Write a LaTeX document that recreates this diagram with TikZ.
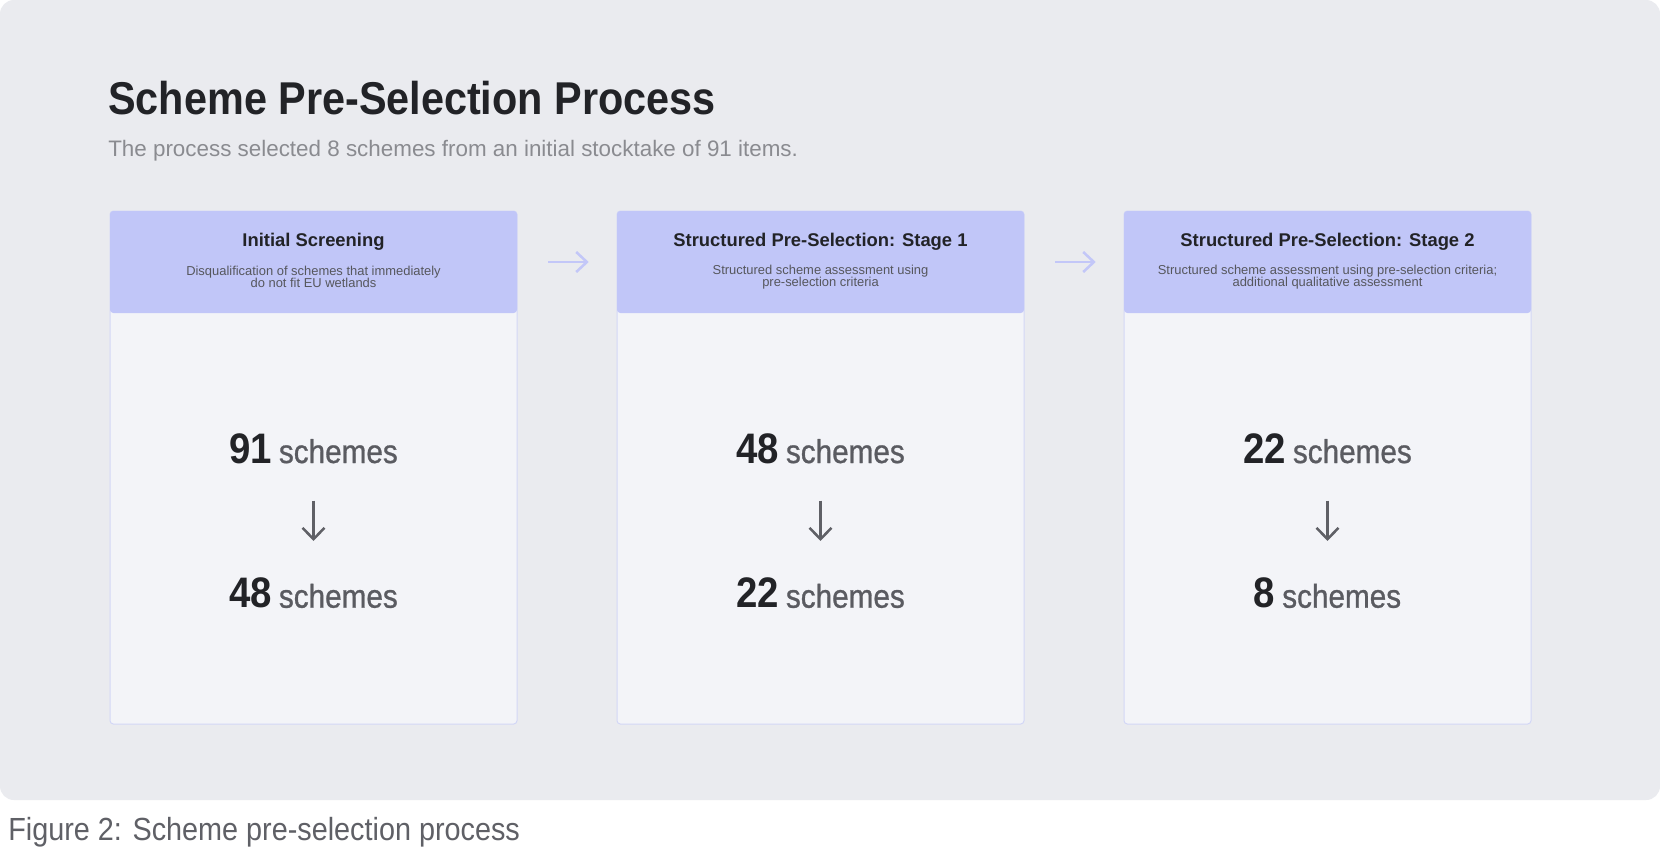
\documentclass[tikz,border=0pt]{standalone}
\usepackage{fontspec}
\setmainfont{Liberation Sans}[FakeStretch=0.9]
\newfontfamily\plainsans{Liberation Sans}
\newfontfamily\unitface{Liberation Sans}[FakeStretch=0.9, FakeBold=0.9]
\usetikzlibrary{arrows.meta}
\definecolor{panelbg}{HTML}{EAEBEF}
\definecolor{hdrfill}{HTML}{C1C6F8}
\definecolor{bodyfill}{HTML}{F3F4F8}
\definecolor{cardedge}{HTML}{D3D7F6}
\definecolor{titlecol}{HTML}{222327}
\definecolor{subcol}{HTML}{8A8B90}
\definecolor{desccol}{HTML}{56575D}
\definecolor{unitcol}{HTML}{5A5B61}
\definecolor{arrowcol}{HTML}{5F6066}
\definecolor{linkcol}{HTML}{C3C7F8}
\definecolor{captioncol}{HTML}{5F6066}
\newcommand\titlefnt{\fontsize{34.5}{40}\selectfont\bfseries}
\newcommand\subfnt{\plainsans\fontsize{16.8}{20}\selectfont}
\newcommand\hdrfnt{\plainsans\fontsize{13.8}{16}\selectfont\bfseries}
\newcommand\descfnt{\plainsans\fontsize{9.7}{9.2}\selectfont}
\newcommand\numfnt{\fontsize{32}{36}\selectfont\bfseries}
\newcommand\unitfnt{\unitface\fontsize{24.75}{28}\selectfont\mdseries\color{unitcol}}
\newcommand\capfnt{\fontsize{24}{28}\selectfont}
\begin{document}
\begin{tikzpicture}[x=0.75pt,y=-0.75pt,
  card/.style={draw=cardedge, line width=0.75pt, fill=bodyfill, rounded corners=2.5pt,
    minimum width=305.25pt, minimum height=384.75pt, inner sep=0pt},
  hdr/.style={fill=hdrfill, rounded corners=2.5pt,
    minimum width=305.25pt, minimum height=76.5pt, inner sep=0pt},
  hdrtitle/.style={anchor=base, inner sep=0pt, text=titlecol, font=\hdrfnt},
  desc/.style={anchor=center, inner sep=0pt, align=center, text=desccol, font=\descfnt},
  count/.style={anchor=base, inner sep=0pt, text=titlecol},
  link/.style={draw=linkcol, line width=1.9pt, -{Straight Barb[length=8pt,width=15pt,line width=1.9pt]},
    shorten <=23.25pt, shorten >=21pt},
  down/.style={draw=arrowcol, line width=1.9pt, -{Straight Barb[length=8.5pt,width=16.5pt,line width=1.9pt]},
    shorten <=27.75pt, shorten >=27.5pt}
]
\useasboundingbox (0,0) rectangle (1660,847);
\fill[white] (0,0) rectangle (1660,847);
\fill[panelbg, rounded corners=10.5pt] (0,0) rectangle (1660,800);

\node[anchor=base west, inner sep=0pt, text=titlecol, font=\titlefnt] (title) at (108,114) {Scheme Pre-Selection Process};
\node[anchor=base west, inner sep=0pt, text=subcol, font=\subfnt] (subtitle) at (108,156.5) {The process selected 8 schemes from an initial stocktake of 91 items.};

% cards
\node[card] (card1) at (313.5,467.5) {};
\node[card] (card2) at (820.5,467.5) {};
\node[card] (card3) at (1327.5,467.5) {};
\node[hdr] (hdr1) at (313.5,262) {};
\node[hdr] (hdr2) at (820.5,262) {};
\node[hdr] (hdr3) at (1327.5,262) {};

\node[hdrtitle] (ht1) at (313.5,246) {Initial Screening};
\node[hdrtitle] (ht2) at (820.5,246) {Structured Pre-Selection: Stage 1};
\node[hdrtitle] (ht3) at (1327.5,246) {Structured Pre-Selection: Stage 2};

\node[desc] (d1) at (313.5,277) {Disqualification of schemes that immediately\\do not fit EU wetlands};
\node[desc] (d2) at (820.5,277) {Structured scheme assessment using\\pre-selection criteria};
\node[desc] (d3) at (1327.5,277) {Structured scheme assessment using pre-selection criteria;\\additional qualitative assessment};

\draw[link] (hdr1) -- (hdr2);
\draw[link] (hdr2) -- (hdr3);

\node[count] (a1) at (313.5,463) {\numfnt 91\hspace{5.25pt}\unitfnt schemes};
\node[count] (b1) at (313.5,607.7) {\numfnt 48\hspace{5.25pt}\unitfnt schemes};
\node[count] (a2) at (820.5,463) {\numfnt 48\hspace{5.25pt}\unitfnt schemes};
\node[count] (b2) at (820.5,607.7) {\numfnt 22\hspace{5.25pt}\unitfnt schemes};
\node[count] (a3) at (1327.5,463) {\numfnt 22\hspace{5.25pt}\unitfnt schemes};
\node[count] (b3) at (1327.5,607.7) {\numfnt 8\hspace{5.25pt}\unitfnt schemes};

\draw[down] (a1) -- (b1);
\draw[down] (a2) -- (b2);
\draw[down] (a3) -- (b3);

\node[anchor=base west, inner sep=0pt, text=captioncol, font=\capfnt] (caption) at (8,840) {Figure 2: Scheme pre-selection process};
\end{tikzpicture}
\end{document}
